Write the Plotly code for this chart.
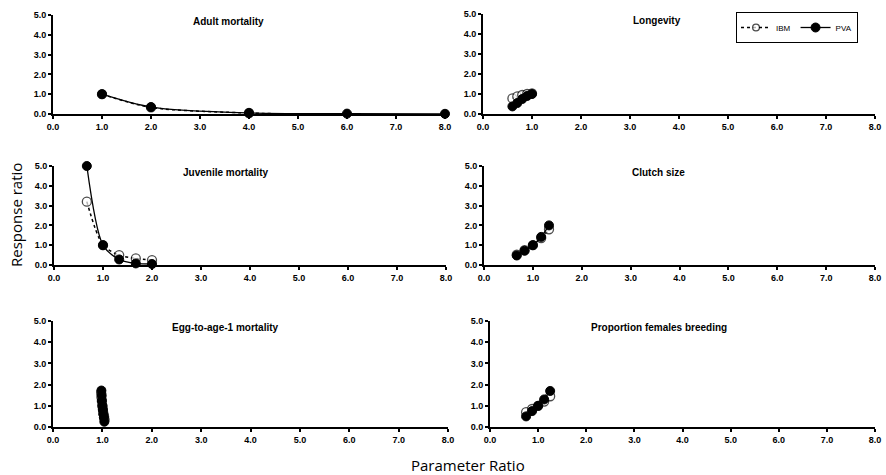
import plotly.graph_objects as go

# ---------------- data ----------------
panel_titles = ["Adult mortality", "Longevity", "Juvenile mortality",
                "Clutch size", "Egg-to-age-1 mortality", "Proportion females breeding"]

adult_x_pva = [1.0, 2.0, 4.0, 6.0, 8.0]
adult_y_pva = [1.0, 0.35, 0.05, 0.02, 0.01]
adult_x_ibm = [1.0, 2.0, 4.0, 4.5]
adult_y_ibm = [1.0, 0.33, 0.05, 0.02]

long_x = [0.6, 0.7, 0.8, 0.9, 1.0]
long_y_pva = [0.38, 0.55, 0.75, 0.9, 1.0]
long_y_ibm = [0.78, 0.88, 0.95, 1.0, 1.03]

juv_x = [0.67, 1.0, 1.33, 1.67, 2.0]
juv_y_pva = [5.0, 1.0, 0.28, 0.08, 0.05]
juv_y_ibm = [3.2, 1.0, 0.5, 0.33, 0.25]

clutch_x = [0.67, 0.83, 1.0, 1.17, 1.33]
clutch_y_pva = [0.48, 0.72, 1.0, 1.42, 2.0]
clutch_y_ibm = [0.52, 0.75, 1.0, 1.36, 1.8]

egg_x_pva = [0.98, 0.985, 0.99, 1.0, 1.01, 1.02, 1.03, 1.04]
egg_y_pva = [1.72, 1.5, 1.25, 1.0, 0.8, 0.6, 0.45, 0.25]
egg_x_ibm = [0.975, 0.98, 0.99, 1.0, 1.01, 1.02, 1.035, 1.045]
egg_y_ibm = [1.62, 1.4, 1.2, 1.0, 0.85, 0.65, 0.5, 0.35]

prop_x = [0.75, 0.875, 1.0, 1.125, 1.25]
prop_y_pva = [0.5, 0.75, 1.0, 1.3, 1.7]
prop_y_ibm = [0.7, 0.85, 1.0, 1.2, 1.45]

x_ticks = [0, 1, 2, 3, 4, 5, 6, 7, 8]
y_ticks = [0, 1, 2, 3, 4, 5]

series = [
    (adult_x_ibm, adult_y_ibm, adult_x_pva, adult_y_pva),
    (long_x, long_y_ibm, long_x, long_y_pva),
    (juv_x, juv_y_ibm, juv_x, juv_y_pva),
    (clutch_x, clutch_y_ibm, clutch_x, clutch_y_pva),
    (egg_x_ibm, egg_y_ibm, egg_x_pva, egg_y_pva),
    (prop_x, prop_y_ibm, prop_x, prop_y_pva),
]

# ---------------- layout geometry (pixels) ----------------
W, H = 886, 475
x_px = [(53, 445), (483, 875), (54, 446), (484, 875), (53, 448), (490, 875)]
y_px = [(15, 114), (14, 114), (166, 265), (166, 265), (321, 427), (321, 427)]
title_cx = [228, 657, 226, 658, 225, 659]

fig = go.Figure()
tick_font = dict(family="Liberation Sans, Arial", size=9, color="black")
x_text = [f"<b>{v:.1f}</b>" for v in x_ticks]
y_text = [f"<b>{v:.1f}</b>" for v in y_ticks]

for i, (xi, yi, xp, yp) in enumerate(series):
    n = i + 1
    xa = "x" if n == 1 else f"x{n}"
    ya = "y" if n == 1 else f"y{n}"
    sizes = [9] * len(xi)
    if i == 0:
        sizes[-1] = 0
    fig.add_trace(go.Scatter(
        x=xi, y=yi, xaxis=xa, yaxis=ya, name="IBM", legendgroup="IBM",
        showlegend=(i == 0), mode="lines+markers", cliponaxis=False,
        line=dict(color="black", width=1.5, dash="dot", shape="spline", smoothing=0.8),
        marker=dict(symbol="circle", size=sizes, color="white",
                    line=dict(color="black", width=1.3)),
    ))
    fig.add_trace(go.Scatter(
        x=xp, y=yp, xaxis=xa, yaxis=ya, name="PVA", legendgroup="PVA",
        showlegend=(i == 0), mode="lines+markers", cliponaxis=False,
        line=dict(color="black", width=1.3, shape="spline", smoothing=0.8),
        marker=dict(symbol="circle", size=9, color="black",
                    line=dict(color="black", width=1)),
    ))

    (x0, x1), (y0, y1) = x_px[i], y_px[i]
    common = dict(showgrid=False, zeroline=False, showline=True, linecolor="black",
                  linewidth=2, ticks="outside", ticklen=3, tickwidth=1.5,
                  tickcolor="black", tickfont=tick_font, automargin=False,
                  ticklabeloverflow="allow")
    fig.layout[("xaxis" if n == 1 else f"xaxis{n}")] = dict(
        domain=[x0 / W, x1 / W], range=[0, 8], tickvals=x_ticks, ticktext=x_text,
        anchor=ya, **common)
    fig.layout[("yaxis" if n == 1 else f"yaxis{n}")] = dict(
        domain=[1 - y1 / H, 1 - y0 / H], range=[0, 5], tickvals=y_ticks, ticktext=y_text,
        anchor=xa, **common)
    fig.add_annotation(
        text=f"<b>{panel_titles[i]}</b>", xref="paper", yref="paper",
        x=title_cx[i] / W, y=1 - (y0 - 1) / H, xanchor="center", yanchor="top",
        showarrow=False,
        font=dict(family="Liberation Sans, Arial", size=10, color="black"))

fig.add_annotation(text="Response ratio", xref="paper", yref="paper",
                   x=16 / W, y=1 - 215 / H, textangle=-90, showarrow=False,
                   xanchor="center", yanchor="middle",
                   font=dict(family="Open Sans", size=15, color="black"))
fig.add_annotation(text="Parameter Ratio", xref="paper", yref="paper",
                   x=468 / W, y=1 - 465 / H, showarrow=False,
                   xanchor="center", yanchor="middle",
                   font=dict(family="Open Sans", size=15, color="black"))

fig.update_layout(
    width=W, height=H, margin=dict(l=0, r=0, t=0, b=0, autoexpand=False),
    paper_bgcolor="white", plot_bgcolor="white",
    legend=dict(orientation="h", x=858 / W, y=1 - 12 / H, xanchor="right", yanchor="top",
                bordercolor="black", borderwidth=1, bgcolor="white",
                font=dict(family="Liberation Sans, Arial", size=8, color="black"),
                itemwidth=30, tracegroupgap=0),
)

fig.write_html("out.html")
